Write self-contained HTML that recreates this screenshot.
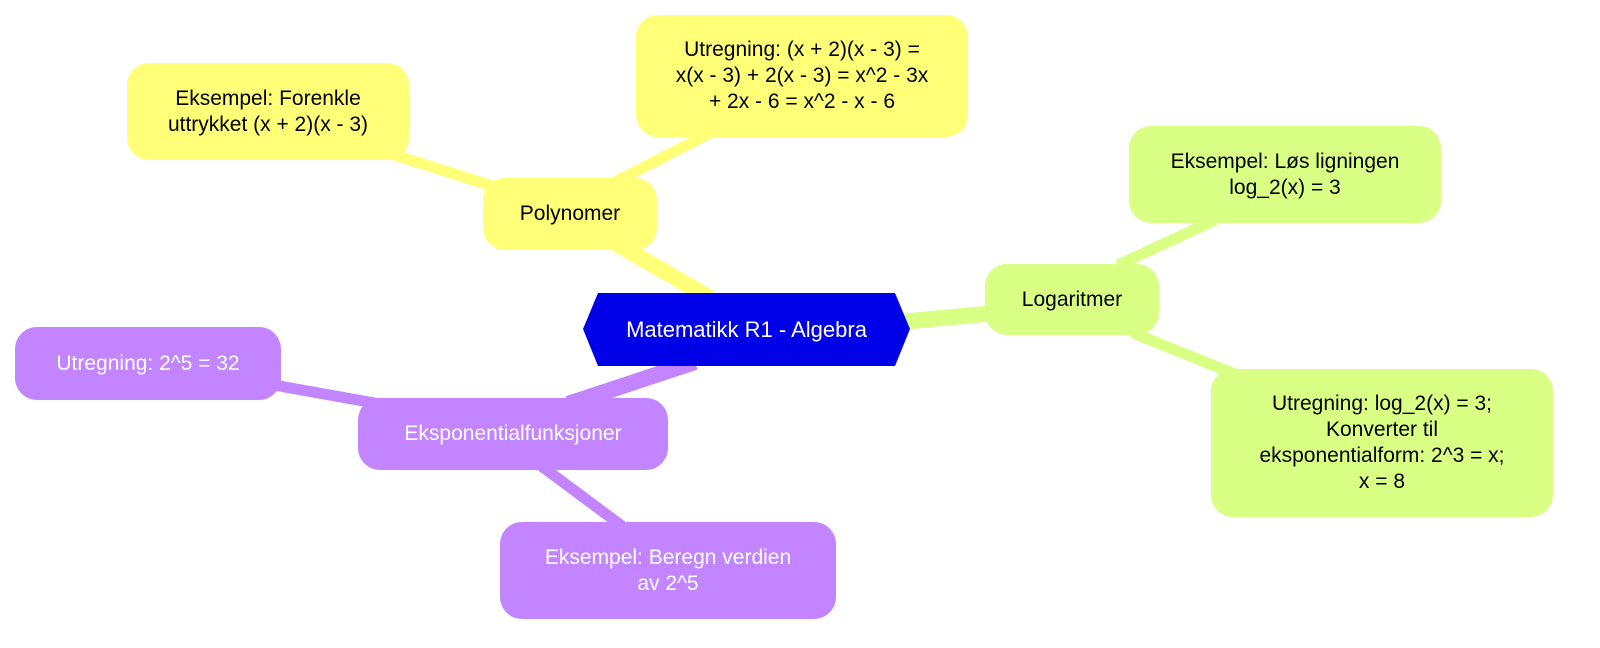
<!DOCTYPE html>
<html><head><meta charset="utf-8"><style>
body{margin:0;width:1600px;height:648px;background:#fff;position:relative;overflow:hidden;font-family:"Liberation Sans","DejaVu Sans",sans-serif;}
svg{position:absolute;left:0;top:0}
.n{position:absolute;display:flex;align-items:center;justify-content:center;text-align:center;font-size:21px;line-height:26px;border-radius:22px;box-sizing:border-box;color:#000}
.y{background:#ffff78}.g{background:#d9ff85}.p{background:#c285ff;color:#fff}
.t{position:absolute;display:flex;align-items:center;justify-content:center;color:#fff;font-size:22px}
</style></head><body>
<svg width="1600" height="648">
<g stroke-linecap="butt" fill="none">
<line x1="710" y1="298" x2="610" y2="240" stroke="#ffff78" stroke-width="16"/>
<line x1="505" y1="190" x2="385" y2="152" stroke="#ffff78" stroke-width="11"/>
<line x1="615" y1="182" x2="712" y2="132" stroke="#ffff78" stroke-width="11"/>
<line x1="900" y1="322" x2="995" y2="313" stroke="#d9ff85" stroke-width="16"/>
<line x1="1118" y1="265" x2="1215" y2="220" stroke="#d9ff85" stroke-width="11"/>
<line x1="1133" y1="333" x2="1242" y2="377" stroke="#d9ff85" stroke-width="11"/>
<line x1="695" y1="362" x2="568" y2="404" stroke="#c285ff" stroke-width="16"/>
<line x1="380" y1="404" x2="268" y2="384" stroke="#c285ff" stroke-width="11"/>
<line x1="540" y1="465" x2="622" y2="526" stroke="#c285ff" stroke-width="11"/>
</g>
<polygon points="598,293 895,293 910,329 895,366 598,366 583,329" fill="#0000e8"/>
</svg>
<div class="t" style="left:583px;top:293px;width:327px;height:73px">Matematikk R1 - Algebra</div>
<div class="n y" style="left:483px;top:178px;width:174px;height:72px">Polynomer</div>
<div class="n y" style="left:127px;top:63px;width:282px;height:97px">Eksempel: Forenkle<br>uttrykket (x + 2)(x - 3)</div>
<div class="n y" style="left:636px;top:15px;width:332px;height:122px">Utregning: (x + 2)(x - 3) =<br>x(x - 3) + 2(x - 3) = x^2 - 3x<br>+ 2x - 6 = x^2 - x - 6</div>
<div class="n g" style="left:985px;top:264px;width:174px;height:71px">Logaritmer</div>
<div class="n g" style="left:1129px;top:126px;width:312px;height:97px">Eksempel: Løs ligningen<br>log_2(x) = 3</div>
<div class="n g" style="left:1211px;top:369px;width:342px;height:148px">Utregning: log_2(x) = 3;<br>Konverter til<br>eksponentialform: 2^3 = x;<br>x = 8</div>
<div class="n p" style="left:358px;top:398px;width:310px;height:72px">Eksponentialfunksjoner</div>
<div class="n p" style="left:15px;top:327px;width:266px;height:73px">Utregning: 2^5 = 32</div>
<div class="n p" style="left:500px;top:522px;width:336px;height:97px">Eksempel: Beregn verdien<br>av 2^5</div>
</body></html>
